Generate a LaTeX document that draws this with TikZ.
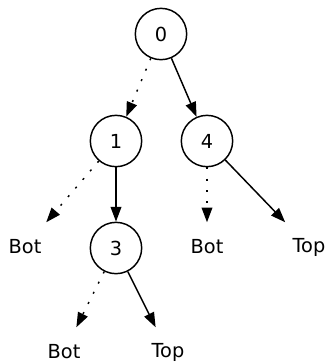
\documentclass[tikz,border=0pt]{standalone}
\usepackage{fontspec}
\setmainfont{DejaVu Sans}
\usetikzlibrary{arrows.meta}

\begin{document}
\begin{tikzpicture}[x=0.75pt, y=-0.75pt, line width=1.1pt,
    every node/.style={font=\fontsize{14.5}{17}\selectfont},
    state/.style={circle, draw, minimum size=38.5pt, inner sep=0pt},
    leaf/.style={minimum width=54pt, minimum height=36pt, inner sep=0pt},
    hi/.style={-{Triangle[length=11pt, width=8pt]}},
    lo/.style={hi, dash pattern=on 1.5pt off 7pt}]
    \useasboundingbox (0,0) rectangle (329,362);
    % decision nodes
    \node [state] (n0) at (161,34) {0};
    \node [state] (n1) at (116,141) {1};
    \node [state] (n4) at (207,141) {4};
    \node [state] (n3) at (116,248) {3};
    % terminals
    \node [leaf] (b1) at (25,247) {Bot};
    \node [leaf] (b4) at (207,247) {Bot};
    \node [leaf] (t4) at (309,247) {Top};
    \node [leaf] (b3) at (64,352) {Bot};
    \node [leaf] (t3) at (168,352) {Top};
    % edges
    \draw [lo] (n0) -- (n1);
    \draw [hi] (n0) -- (n4);
    \draw [lo] (n1) -- (b1);
    \draw [hi] (n1) -- (n3);
    \draw [lo] (n4) -- (b4);
    \draw [hi] (n4) -- (t4);
    \draw [lo] (n3) -- (b3);
    \draw [hi] (n3) -- (t3);
\end{tikzpicture}
\end{document}
